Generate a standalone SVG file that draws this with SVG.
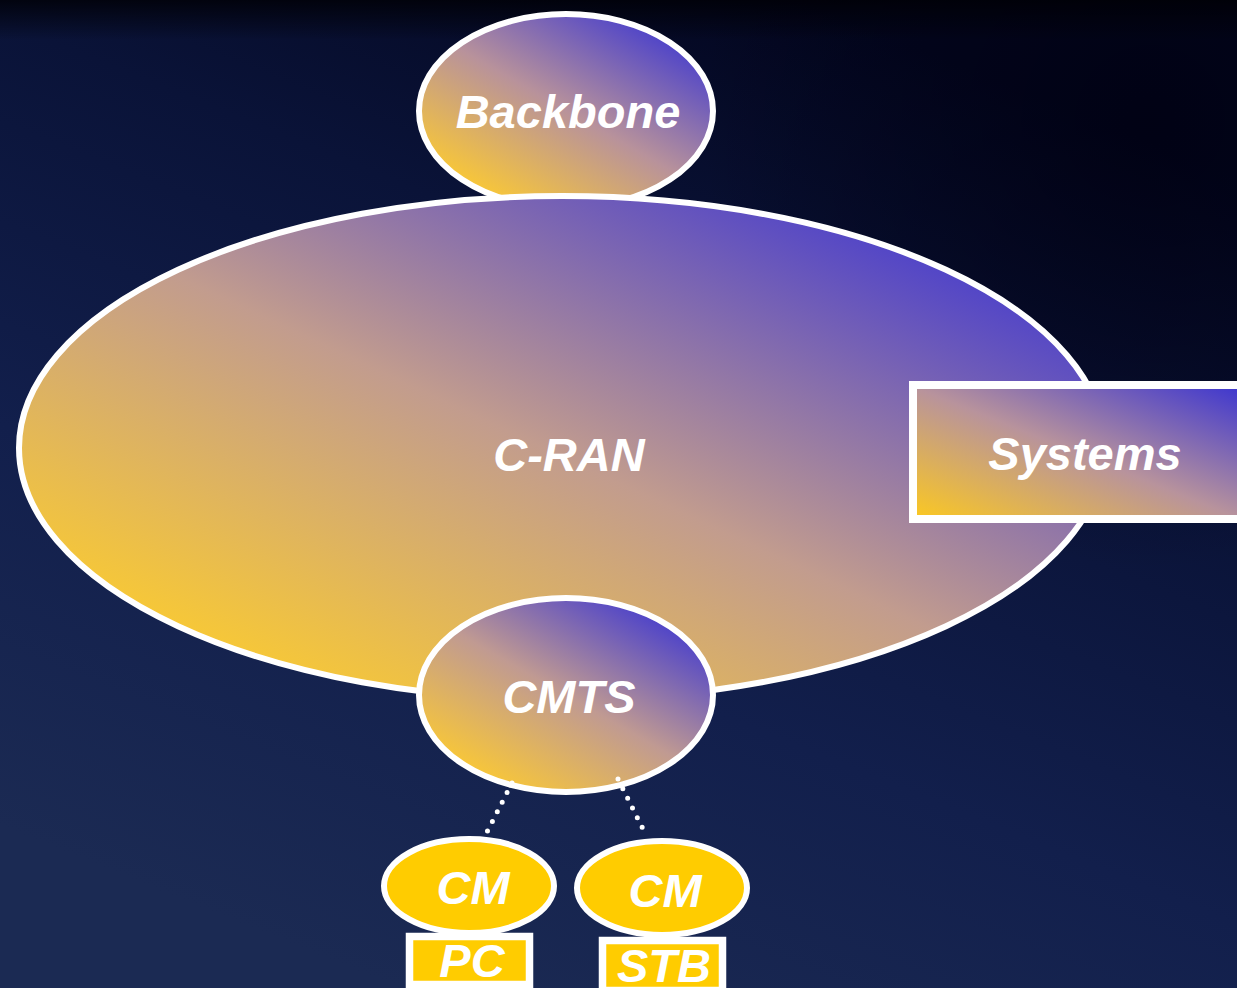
<svg xmlns="http://www.w3.org/2000/svg" width="1237" height="988" viewBox="0 0 1237 988">
  <defs>
    <linearGradient id="bg" x1="800" y1="0" x2="400" y2="988" gradientUnits="userSpaceOnUse">
      <stop offset="0" stop-color="#03061f"/>
      <stop offset="0.3" stop-color="#0a1338"/>
      <stop offset="0.65" stop-color="#121f4c"/>
      <stop offset="1" stop-color="#1b2a53"/>
    </linearGradient>
    <linearGradient id="topdark" x1="0" y1="0" x2="0" y2="40" gradientUnits="userSpaceOnUse">
      <stop offset="0" stop-color="#000005" stop-opacity="0.8"/>
      <stop offset="1" stop-color="#000005" stop-opacity="0"/>
    </linearGradient>
    <radialGradient id="darkTR" cx="1150" cy="120" r="450" gradientUnits="userSpaceOnUse">
      <stop offset="0" stop-color="#000010" stop-opacity="0.7"/>
      <stop offset="1" stop-color="#000010" stop-opacity="0"/>
    </radialGradient>
    <linearGradient id="gCran" x1="424" y1="752" x2="700" y2="161" gradientUnits="userSpaceOnUse">
      <stop offset="0" stop-color="#f8c935"/>
      <stop offset="0.5" stop-color="#c29c8e"/>
      <stop offset="1" stop-color="#5447c6"/>
    </linearGradient>
    <linearGradient id="gBack" x1="511" y1="206" x2="621" y2="14" gradientUnits="userSpaceOnUse">
      <stop offset="0" stop-color="#f7c63a"/>
      <stop offset="0.5" stop-color="#b8929b"/>
      <stop offset="1" stop-color="#5045c8"/>
    </linearGradient>
    <linearGradient id="gCmts" x1="511" y1="791" x2="621" y2="599" gradientUnits="userSpaceOnUse">
      <stop offset="0" stop-color="#f7c63a"/>
      <stop offset="0.5" stop-color="#c09a92"/>
      <stop offset="1" stop-color="#5045c8"/>
    </linearGradient>
    <linearGradient id="gSys" x1="1029" y1="566" x2="1121" y2="338" gradientUnits="userSpaceOnUse">
      <stop offset="0" stop-color="#fcc920"/>
      <stop offset="0.5" stop-color="#b8939c"/>
      <stop offset="1" stop-color="#3d36cf"/>
    </linearGradient>
    <style>
      .lbl { font-family: "Liberation Sans", Arial, sans-serif; font-weight: bold; font-style: italic; font-size: 47px; fill: #ffffff; text-anchor: middle; }
      .edge { stroke: #ffffff; stroke-width: 6; }
      .cm { fill: #ffcc00; stroke: #ffffff; stroke-width: 6; }
      .dev { fill: #ffcc00; stroke: #ffffff; stroke-width: 7.5; }
      .dots { fill: none; stroke: #ffffff; stroke-width: 5; stroke-linecap: round; stroke-dasharray: 0 10.8; }
    </style>
  </defs>
  <rect x="0" y="0" width="1237" height="988" fill="url(#bg)"/>
  <rect x="0" y="0" width="1237" height="988" fill="url(#darkTR)"/>
  <rect x="0" y="0" width="1237" height="40" fill="url(#topdark)"/>

  <g id="backbone">
    <ellipse cx="566" cy="111" rx="147" ry="97" fill="url(#gBack)" class="edge"/>
    <text class="lbl" x="568" y="128">Backbone</text>
  </g>

  <g id="cran">
    <ellipse cx="562" cy="448" rx="543" ry="252" fill="url(#gCran)" class="edge"/>
    <text class="lbl" x="569" y="471">C-RAN</text>
  </g>

  <g id="systems">
    <rect x="913" y="385" width="330" height="134" fill="url(#gSys)" stroke="#ffffff" stroke-width="8"/>
    <text class="lbl" x="1085" y="470">Systems</text>
  </g>

  <g id="cmts">
    <ellipse cx="566" cy="695" rx="147" ry="97" fill="url(#gCmts)" class="edge"/>
    <text class="lbl" x="569" y="713">CMTS</text>
  </g>

  <g id="connectors">
    <line class="dots" x1="512" y1="783" x2="485" y2="836"/>
    <line class="dots" x1="618" y1="779" x2="645" y2="833"/>
  </g>

  <g id="cm1">
    <ellipse cx="469" cy="886" rx="85" ry="47" class="cm"/>
    <text class="lbl" x="473" y="904">CM</text>
  </g>
  <g id="cm2">
    <ellipse cx="662" cy="888" rx="85" ry="47" class="cm"/>
    <text class="lbl" x="665" y="907">CM</text>
  </g>

  <g id="pc">
    <rect x="409.5" y="936.5" width="120" height="48" class="dev"/>
    <text class="lbl" x="472" y="977">PC</text>
  </g>
  <g id="stb">
    <rect x="602.5" y="940.5" width="120" height="50" class="dev"/>
    <text class="lbl" x="664" y="982">STB</text>
  </g>
</svg>
